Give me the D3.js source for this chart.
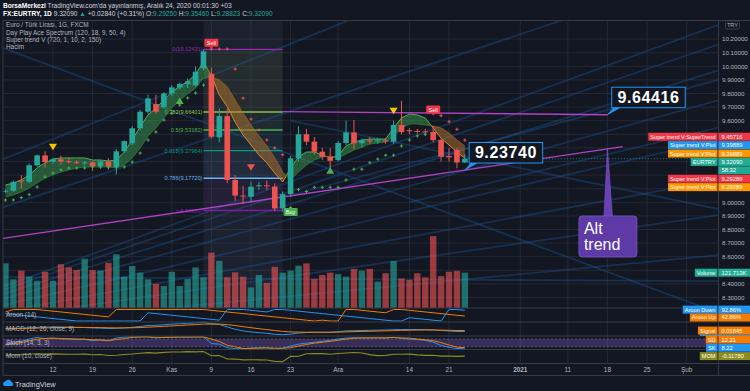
<!DOCTYPE html>
<html><head><meta charset="utf-8">
<script src="https://cdn.jsdelivr.net/npm/d3@7"></script>
<style>
html,body{margin:0;padding:0;background:#131722;}
svg{display:block;}
text{font-family:"Liberation Sans",Arial,sans-serif;}
</style></head><body>
<svg id="chart" width="750" height="391"></svg>
<script>
// ---------------- DATA ----------------
const dates = ["2020-10-02","2020-10-05","2020-10-06","2020-10-07","2020-10-08","2020-10-09",
"2020-10-12","2020-10-13","2020-10-14","2020-10-15","2020-10-16","2020-10-19","2020-10-20","2020-10-21","2020-10-22","2020-10-23",
"2020-10-26","2020-10-27","2020-10-28","2020-10-29","2020-10-30","2020-11-02","2020-11-03","2020-11-04","2020-11-05","2020-11-06",
"2020-11-09","2020-11-10","2020-11-11","2020-11-12","2020-11-13","2020-11-16","2020-11-17","2020-11-18","2020-11-19","2020-11-20",
"2020-11-23","2020-11-24","2020-11-25","2020-11-26","2020-11-27","2020-11-30","2020-12-01","2020-12-02","2020-12-03","2020-12-04",
"2020-12-07","2020-12-08","2020-12-09","2020-12-10","2020-12-11","2020-12-14","2020-12-15","2020-12-16","2020-12-17","2020-12-18",
"2020-12-21","2020-12-22","2020-12-23"];
const openP = [9.080,9.085,9.160,9.150,9.272,9.345,9.298,9.316,9.302,9.295,9.290,9.294,9.266,9.300,9.262,9.375,9.434,9.544,9.666,9.722,9.700,9.800,9.845,9.870,9.860,9.985,9.946,9.478,9.634,9.164,9.050,9.041,9.118,9.125,9.115,8.955,9.060,9.323,9.500,9.446,9.372,9.330,9.310,9.436,9.514,9.434,9.455,9.450,9.455,9.445,9.568,9.530,9.525,9.522,9.517,9.457,9.340,9.385,9.2925];
const highP = [9.095,9.160,9.200,9.285,9.350,9.375,9.325,9.345,9.330,9.310,9.305,9.300,9.310,9.325,9.390,9.455,9.560,9.680,9.790,9.790,9.810,9.860,9.880,9.910,10.000,10.124,9.990,9.690,9.690,9.200,9.120,9.150,9.150,9.160,9.140,9.080,9.340,9.560,9.540,9.480,9.400,9.400,9.450,9.600,9.605,9.470,9.480,9.475,9.470,9.600,9.746,9.545,9.540,9.540,9.560,9.470,9.400,9.400,9.3546];
const lowP = [9.070,9.075,9.100,9.140,9.260,9.255,9.285,9.275,9.285,9.280,9.270,9.230,9.250,9.240,9.205,9.365,9.420,9.530,9.650,9.650,9.690,9.780,9.830,9.840,9.850,9.970,9.470,9.440,9.140,9.010,8.990,9.000,9.090,9.090,8.935,8.930,9.040,9.300,9.420,9.350,9.310,9.250,9.300,9.420,9.390,9.400,9.430,9.430,9.430,9.430,9.500,9.500,9.505,9.490,9.440,9.300,9.300,9.250,9.28823];
const closeP = [9.085,9.150,9.155,9.272,9.345,9.296,9.316,9.300,9.295,9.290,9.294,9.266,9.300,9.262,9.375,9.450,9.544,9.666,9.764,9.666,9.800,9.845,9.870,9.890,9.960,10.110,9.482,9.634,9.164,9.049,9.045,9.115,9.125,9.120,8.955,9.060,9.323,9.500,9.446,9.372,9.335,9.305,9.436,9.514,9.434,9.458,9.450,9.455,9.450,9.568,9.517,9.525,9.520,9.515,9.457,9.335,9.330,9.2925,9.3209];
const volumeK = [154,99,129,108,94,125,94,151,140,131,170,131,129,156,185,108,145,122,99,83,76,125,76,100,140,106,191,163,106,123,108,71,114,87,142,122,129,146,154,100,114,122,117,108,135,129,135,91,120,162,102,97,120,106,248,110,125,128,121.713];
// Day Play Ace Spectrum (fast / slow lines)
const specFast = [9.127,9.142,9.164,9.201,9.252,9.289,9.318,9.326,9.326,9.326,9.326,9.311,9.311,9.304,9.311,9.370,9.458,9.554,9.642,9.693,9.752,9.811,9.855,9.885,9.943,10.032,9.930,9.789,9.703,9.590,9.495,9.421,9.348,9.289,9.215,9.149,9.252,9.333,9.370,9.370,9.348,9.326,9.340,9.414,9.443,9.458,9.465,9.465,9.465,9.546,9.620,9.649,9.642,9.620,9.546,9.472,9.421,9.370,9.326];
const specSlow = [9.039,9.054,9.076,9.105,9.142,9.179,9.201,9.223,9.238,9.252,9.260,9.260,9.260,9.260,9.252,9.274,9.326,9.399,9.488,9.546,9.620,9.693,9.752,9.796,9.840,9.914,9.920,9.900,9.850,9.752,9.656,9.568,9.488,9.415,9.326,9.223,9.164,9.223,9.274,9.311,9.333,9.340,9.326,9.355,9.384,9.406,9.428,9.436,9.443,9.487,9.546,9.576,9.576,9.568,9.561,9.546,9.510,9.458,9.414];
// Super trend V dots
const stValue = [9.017,9.017,9.034,9.056,9.113,9.186,9.215,9.238,9.252,9.252,9.252,9.260,9.260,9.260,9.260,9.260,9.296,9.362,9.458,9.517,9.605,9.654,9.715,9.767,9.804,9.862,10.127,10.127,10.127,9.980,9.766,9.612,9.531,9.458,9.400,9.350,9.079,9.093,9.080,9.110,9.110,9.110,9.110,9.164,9.243,9.243,9.291,9.318,9.346,9.346,9.414,9.458,9.488,9.500,9.665,9.637,9.593,9.537,9.457];
const stDir = [1,1,1,1,1,1,1,1,1,1,1,1,1,1,1,1,1,1,1,1,1,1,1,1,1,1,-1,-1,-1,-1,-1,-1,-1,-1,-1,-1,1,1,1,1,1,1,1,1,1,1,1,1,1,1,1,1,1,1,-1,-1,-1,-1,-1];
// indicator panes
const aroonUp = [78.57,100,100,100,100,92.86,85.71,78.57,71.43,64.29,57.14,50,42.86,35.71,100,100,100,100,100,100,100,100,100,100,100,100,92.86,85.71,78.57,71.43,64.29,57.14,50,42.86,35.71,28.57,21.43,14.29,7.14,0,7.14,0,0,100,100,92.86,85.71,78.57,71.43,100,100,92.86,85.71,78.57,71.43,64.29,57.14,50,42.86];
const aroonDown = [64.29,57.14,50,42.86,35.71,28.57,21.43,14.29,7.14,0,0,0,0,0,0,0,0,0,71.43,64.29,57.14,50,42.86,35.71,28.57,21.43,14.29,7.14,100,100,100,92.86,85.71,78.57,100,100,92.86,85.71,78.57,71.43,64.29,57.14,50,42.86,35.71,28.57,21.43,14.29,7.14,0,0,28.57,21.43,14.29,7.14,0,100,100,92.86];
const macdLine = [0.06,0.07,0.075,0.085,0.10,0.105,0.11,0.11,0.105,0.10,0.095,0.085,0.08,0.07,0.075,0.085,0.10,0.12,0.145,0.15,0.165,0.18,0.19,0.20,0.21,0.23,0.19,0.17,0.11,0.05,0.01,-0.015,-0.035,-0.05,-0.075,-0.085,-0.07,-0.045,-0.03,-0.025,-0.025,-0.025,-0.01,0.01,0.015,0.02,0.025,0.028,0.03,0.04,0.045,0.045,0.045,0.042,0.035,0.02,0.008,-0.005,-0.008];
const macdSignal = [0.075,0.074,0.074,0.076,0.08,0.085,0.09,0.094,0.096,0.097,0.097,0.095,0.092,0.088,0.085,0.085,0.088,0.094,0.104,0.113,0.123,0.135,0.146,0.157,0.167,0.18,0.182,0.18,0.166,0.143,0.116,0.09,0.065,0.042,0.019,-0.002,-0.015,-0.021,-0.023,-0.023,-0.024,-0.024,-0.021,-0.015,-0.009,-0.003,0.002,0.007,0.012,0.017,0.023,0.027,0.031,0.033,0.033,0.03,0.026,0.02,0.01845];
const stochK = [40,55,62,80,92,84,86,82,80,78,78,68,74,66,88,95,97,97,97,88,95,96,96,95,96,98,45,40,12,5,5,10,12,12,2,10,25,40,48,55,62,70,80,88,90,88,88,90,88,95,85,80,76,70,55,30,15,6,8.22];
const stochD = [35,45,52,66,78,85,87,84,82,80,79,74,73,69,76,83,93,96,97,94,93,93,96,96,96,96,80,61,32,19,7,7,9,11,9,8,12,25,38,48,55,62,71,79,86,89,89,89,89,91,89,87,80,75,67,52,33,17,12.21];
const momentum = [0.05,0.12,0.10,0.20,0.28,0.22,0.25,0.22,0.20,0.20,0.21,0.12,0.145,-0.01,0.03,0.154,0.228,0.366,0.469,0.376,0.506,0.579,0.57,0.628,0.585,0.66,-0.062,-0.032,-0.60,-0.617,-0.755,-0.73,-0.745,-0.77,-1.005,-1.05,-0.159,-0.134,0.282,0.323,0.29,0.19,0.311,0.394,0.479,0.398,0.127,-0.045,0.004,0.196,0.182,0.22,0.084,0.001,0.023,-0.123,-0.12,-0.16,-0.1178];
// time axis (bar index from 12 Oct = 0)
const tickIdx = [0,5,10,15,20,25,30,36,45,50,59,65,70,75,80];
const tickText = ["12","19","26","Kas","9","16","23","Ara","14","21","2021","11","18","25","Şub"];
const priceTicks = [8.3,8.4,8.5,8.6,8.7,8.8,8.9,9.0,9.1,9.2,9.3,9.4,9.5,9.6,9.7,9.8,9.9,10.0,10.1,10.2];
// fibonacci retracement
const fibLevels = [0,0.382,0.5,0.618,0.786,1];
const fibPrices = [10.12431,9.66401,9.53182,9.37964,9.17720,8.93933];
const fibColors = ["#9c27b0","#8bc34a","#4caf50","#089981","#64b5f6","#7b1fa2"];
const fibFrom = 19, fibTo = 29;
// signals and triangles
const sigIdx = [20,48,30], sigText = ["Sell","Sell","Buy"], sigPrice = [10.174,9.682,8.929];
const triIdx = [0,43,16,35,25], triPrice = [9.409,9.674,9.745,9.232,9.257], triKind = ["yellowDown","yellowDown","greenUp","greenUp","redDown"];
// trend lines [idx1, price1, idx2, price2]
const trendLines = [[-6.31,8.735,71.93,9.409],[29,9.667,70,9.64416]];
// gann fan lines [idx1, price1, idx2, price2]
const fanLines = [
  [-23.7,8.009,84,10.304],[-23.7,8.009,84,10.16],[-23.7,8.009,84,9.97],[-23.7,8.009,84,9.75],
  [-23.7,8.009,84,9.46],[-23.7,8.009,84,9.164],[-23.7,8.009,84,8.906],[-23.7,8.009,84,8.612],
  [-7,9.30,40,10.40],[-7,8.95,70,10.45],[30,9.05,84,9.90],[45,9.00,84,9.55],
  [-6.7,10.143,84,8.187],[30,9.60,84,8.95],[-7,8.45,84,8.42]];
// callouts
const calloutIdx = [70,52], calloutPrice = [9.64416,9.2374], calloutText = ["9.64416","9.23740"];
const altIdx = 70, altPrice = 9.40, altText = ["Alt","trend"];
// right-side price labels
const rlNames = ["Super trend V:SuperTrend","Super trend V:Plot","Super trend V:Plot","EURTRY","","Super trend V:Plot","Super trend V:Plot"];
const rlValues = ["9.45716","9.39889","9.39889","9.32090","58:32","9.29289","9.29289"];
const rlColors = ["#f23645","#2196f3","#ff9800","#22ab94","#22ab94","#f23645","#ff9800"];
const lastPrice = 9.3209;

// ---------------- SCALES ----------------
const svg = d3.select("#chart");
const PL=3, PR=718, PT=21, PB=308;
const idx = dates.map((d,k)=>k-6);
const x = d3.scaleLinear().domain([-6.31,83.96]).range([PL,PR]);
const y = d3.scaleLinear().domain([8.2228,10.3331]).range([PB,PT]);
const yVol = d3.scaleLinear().domain([0,300]).range([PB,PB-300/3.45]);
const yAroon = d3.scaleLinear().domain([0,100]).range([321,309.5]);
const yMacd = d3.scaleLinear().domain([0,0.2]).range([331.3,323.3]);
const yStoch = d3.scaleLinear().domain([0,100]).range([349.3,336.5]);
const yMom = d3.scaleLinear().domain([0,1]).range([355.4,349.44]);

const BG="#131722", GRID="#242836", TXT="#b2b5be", UP="#26a69a", DN="#ef5350", SEP="#363a45";

svg.append("rect").attr("width",750).attr("height",391).attr("fill",BG);
const defs = svg.append("defs");
defs.append("clipPath").attr("id","mainClip").append("rect").attr("x",PL).attr("y",PT).attr("width",PR-PL).attr("height",PB-PT);
defs.append("clipPath").attr("id","subClip").append("rect").attr("x",PL).attr("y",308).attr("width",PR-PL).attr("height",56);

// grid
const grid = svg.append("g");
grid.selectAll("line.v").data(tickIdx).join("line").attr("x1",d=>x(d)).attr("x2",d=>x(d)).attr("y1",PT).attr("y2",363.5).attr("stroke",GRID).attr("stroke-width",1);
grid.selectAll("line.h").data(priceTicks).join("line").attr("x1",PL).attr("x2",PR).attr("y1",d=>y(d)).attr("y2",d=>y(d)).attr("stroke",GRID).attr("stroke-width",1);

const main = svg.append("g").attr("clip-path","url(#mainClip)");
// highlighted date range
main.append("rect").attr("x",x(fibFrom)).attr("y",PT).attr("width",x(fibTo)-x(fibFrom)).attr("height",PB-PT).attr("fill","rgba(110,130,170,0.10)");
// fan lines
main.selectAll("line.fan").data(fanLines).join("line")
  .attr("x1",d=>x(d[0])).attr("y1",d=>y(d[1])).attr("x2",d=>x(d[2])).attr("y2",d=>y(d[3]))
  .attr("stroke","#1e5a9a").attr("stroke-opacity",0.38).attr("stroke-width",1.8);
// volume
main.selectAll("rect.vol").data(idx).join("rect")
  .attr("x",(d)=>x(d)-3.2).attr("width",6.4)
  .attr("y",(d,k)=>yVol(volumeK[k])).attr("height",(d,k)=>PB-yVol(volumeK[k]))
  .attr("fill",(d,k)=>closeP[k]>=openP[k]?UP:DN).attr("fill-opacity",0.62);
// fib zones
for(let j=0;j<fibPrices.length-1;j++){
  main.append("rect").attr("x",x(fibFrom)).attr("width",x(fibTo)-x(fibFrom))
    .attr("y",y(fibPrices[j])).attr("height",y(fibPrices[j+1])-y(fibPrices[j]))
    .attr("fill",fibColors[j+1]).attr("fill-opacity",0.07);
}
fibPrices.forEach((p,j)=>{
  main.append("line").attr("x1",x(fibFrom)).attr("x2",x(fibTo)).attr("y1",y(p)).attr("y2",y(p))
    .attr("stroke",fibColors[j]).attr("stroke-width",1.4);
  main.append("text").attr("x",x(fibFrom)-1).attr("y",y(p)+2).attr("text-anchor","end")
    .attr("font-size",5.6).attr("fill",fibColors[j]).text(fibLevels[j]+"("+p.toFixed(5)+")");
});
// spectrum band
const bandG = main.append("g");
for(let k=0;k<idx.length-1;k++){
  const xa=x(idx[k]), xb=x(idx[k+1]);
  const d0=specFast[k]-specSlow[k], d1=specFast[k+1]-specSlow[k+1];
  const segs=[];
  if(d0*d1>=0){
    segs.push({pts:[[xa,y(specFast[k])],[xb,y(specFast[k+1])],[xb,y(specSlow[k+1])],[xa,y(specSlow[k])]],up:(d0+d1)>=0,
      f:[[xa,y(specFast[k])],[xb,y(specFast[k+1])]], s:[[xa,y(specSlow[k])],[xb,y(specSlow[k+1])]]});
  } else {
    const t=d0/(d0-d1); const xm=xa+t*(xb-xa); const pm=specFast[k]+t*(specFast[k+1]-specFast[k]);
    segs.push({pts:[[xa,y(specFast[k])],[xm,y(pm)],[xa,y(specSlow[k])]],up:d0>0,f:[[xa,y(specFast[k])],[xm,y(pm)]],s:[[xa,y(specSlow[k])],[xm,y(pm)]]});
    segs.push({pts:[[xm,y(pm)],[xb,y(specFast[k+1])],[xb,y(specSlow[k+1])]],up:d1>0,f:[[xm,y(pm)],[xb,y(specFast[k+1])]],s:[[xm,y(pm)],[xb,y(specSlow[k+1])]]});
  }
  segs.forEach(s=>{
    bandG.append("polygon").attr("points",s.pts.map(p=>p.join(",")).join(" "))
      .attr("fill",s.up?"#3d9a52":"#b8762a").attr("fill-opacity",0.5);
    bandG.append("line").attr("x1",s.f[0][0]).attr("y1",s.f[0][1]).attr("x2",s.f[1][0]).attr("y2",s.f[1][1])
      .attr("stroke",s.up?"#4caf50":"#d9892e").attr("stroke-width",1);
    bandG.append("line").attr("x1",s.s[0][0]).attr("y1",s.s[0][1]).attr("x2",s.s[1][0]).attr("y2",s.s[1][1])
      .attr("stroke",s.up?"#2e7d32":"#a0601e").attr("stroke-width",0.8);
  });
}
// trend lines
main.selectAll("line.tr").data(trendLines).join("line")
  .attr("x1",d=>x(d[0])).attr("y1",d=>y(d[1])).attr("x2",d=>x(d[2])).attr("y2",d=>y(d[3]))
  .attr("stroke","#b042c4").attr("stroke-width",1.4);
// last price dotted line
main.append("line").attr("x1",x(52)).attr("x2",PR).attr("y1",y(lastPrice)).attr("y2",y(lastPrice))
  .attr("stroke",UP).attr("stroke-dasharray","1,2").attr("stroke-opacity",0.7);
// candles
const cg = main.append("g");
idx.forEach((d,k)=>{
  const c = closeP[k]>=openP[k]?UP:DN;
  cg.append("line").attr("x1",x(d)).attr("x2",x(d)).attr("y1",y(highP[k])).attr("y2",y(lowP[k])).attr("stroke",c).attr("stroke-width",1);
  const top=y(Math.max(openP[k],closeP[k])), bot=y(Math.min(openP[k],closeP[k]));
  cg.append("rect").attr("x",x(d)-2.8).attr("width",5.6).attr("y",top).attr("height",Math.max(1,bot-top)).attr("fill",c);
});
// super trend plus markers
const sg = main.append("g");
idx.forEach((d,k)=>{
  const cx=x(d), cy=y(stValue[k]), col=stDir[k]>0?"#4caf50":"#ef5350";
  sg.append("path").attr("d",`M${cx-1.6},${cy}H${cx+1.6}M${cx},${cy-1.6}V${cy+1.6}`).attr("stroke",col).attr("stroke-width",1);
});
// triangles
triIdx.forEach((d,k)=>{
  const cx=x(d), cy=y(triPrice[k]); const kind=triKind[k];
  let path, col;
  if(kind==="greenUp"){ path=`M${cx},${cy-3.5}L${cx+4},${cy+3}L${cx-4},${cy+3}Z`; col="#4caf50"; }
  else { path=`M${cx-4},${cy-3}L${cx+4},${cy-3}L${cx},${cy+3.5}Z`; col= kind==="redDown"?"#ef5350":"#f7c600"; }
  main.append("path").attr("d",path).attr("fill",col);
});
// signals
sigIdx.forEach((d,k)=>{
  const cx=x(d), cy=y(sigPrice[k]); const col=sigText[k]==="Sell"?"#f23645":"#4caf50";
  const g=main.append("g");
  g.append("rect").attr("x",cx-7).attr("y",cy-4).attr("width",14).attr("height",8).attr("rx",1).attr("fill",col);
  if(sigText[k]==="Sell") g.append("path").attr("d",`M${cx-2},${cy+4}L${cx+2},${cy+4}L${cx},${cy+6}Z`).attr("fill",col);
  else g.append("path").attr("d",`M${cx-2},${cy-4}L${cx+2},${cy-4}L${cx},${cy-6}Z`).attr("fill",col);
  g.append("text").attr("x",cx).attr("y",cy+2).attr("text-anchor","middle").attr("font-size",5.5).attr("fill","#fff").text(sigText[k]);
});
// callouts
calloutIdx.forEach((d,k)=>{
  const ax=x(d), ay=y(calloutPrice[k]);
  const bx=ax+4.3, bh=20.5, by=ay-7-bh, bw=73.5;
  const g=svg.append("g");
  g.append("path").attr("d",`M${ax},${ay}L${bx+2},${by+bh}L${bx+8},${by+bh}Z`).attr("fill","#2196f3").attr("stroke","#2196f3").attr("stroke-width",0.8);
  g.append("rect").attr("x",bx).attr("y",by).attr("width",bw).attr("height",bh).attr("fill",BG).attr("stroke","#2196f3").attr("stroke-width",1);
  g.append("text").attr("x",bx+bw/2).attr("y",by+bh/2+5.6).attr("text-anchor","middle").attr("font-size",16).attr("font-weight",600)
    .attr("letter-spacing",0.6).attr("fill","#fff").text(calloutText[k]);
});
// Alt trend callout
{
  const ax=x(altIdx), ay=y(altPrice);
  const bw=58, bh=41, bx=ax-28.5, by=216;
  const g=svg.append("g");
  g.append("path").attr("d",`M${ax},${ay}L${ax-3.5},${by+1}L${ax+5},${by+1}Z`).attr("fill","#6a3fb5").attr("stroke","#7e57c2").attr("stroke-width",0.6);
  g.append("rect").attr("x",bx).attr("y",by).attr("width",bw).attr("height",bh).attr("rx",3).attr("fill","#5d3aa6").attr("stroke","#7e57c2").attr("stroke-width",0.8);
  altText.forEach((t,k)=>g.append("text").attr("x",bx+5).attr("y",by+18+k*16).attr("font-size",16).attr("fill","#fff").text(t));
}

// ---------- sub panes ----------
const sub = svg.append("g").attr("clip-path","url(#subClip)");
sub.append("rect").attr("x",PL).attr("width",PR-PL).attr("y",yStoch(80)).attr("height",yStoch(20)-yStoch(80)).attr("fill","#7e57c2").attr("fill-opacity",0.35);
[80,20].forEach(v=>sub.append("line").attr("x1",PL).attr("x2",PR).attr("y1",yStoch(v)).attr("y2",yStoch(v)).attr("stroke","#787b86").attr("stroke-dasharray","2,2").attr("stroke-width",0.6));
function drawLine(vals, sc, col, w){
  sub.append("path").attr("d",d3.line().x((v,k)=>x(idx[k])).y(v=>sc(v))(vals)).attr("fill","none").attr("stroke",col).attr("stroke-width",w||1);
}
drawLine(aroonDown,yAroon,"#2196f3");
drawLine(aroonUp,yAroon,"#f57c00");
drawLine(macdLine,yMacd,"#2196f3");
drawLine(macdSignal,yMacd,"#f57c00");
drawLine(stochK,yStoch,"#2196f3");
drawLine(stochD,yStoch,"#f57c00");
drawLine(momentum,yMom,"#8d8d1f",1.1);

// separators & frame
[308,322,336,349.5,363.5,375.5].forEach(v=>svg.append("line").attr("x1",PL).attr("x2",750).attr("y1",v).attr("y2",v).attr("stroke",SEP).attr("stroke-width",1));
svg.append("line").attr("x1",PL).attr("x2",750).attr("y1",20.5).attr("y2",20.5).attr("stroke",SEP);
svg.append("line").attr("x1",PL).attr("x2",PL).attr("y1",20.5).attr("y2",375.5).attr("stroke",SEP);
svg.append("line").attr("x1",PR+0.5).attr("x2",PR+0.5).attr("y1",20.5).attr("y2",375.5).attr("stroke",SEP);

// pane titles
const paneTitles = ["Aroon (14)","MACD (12, 26, close, 9)","Stoch (14, 3, 3)","Mom (10, close)"];
[317,330.8,344.6,358.4].forEach((v,k)=>svg.append("text").attr("x",6).attr("y",v).attr("font-size",6.4).attr("fill",TXT).text(paneTitles[k]));

// legend
const legend = ["Euro / Türk Lirası, 1G, FXCM","Day Play Ace Spectrum (120, 18, 9, 50, 4)","Super trend V (720, 1, 10, 2, 150)","Hacim"];
legend.forEach((t,k)=>svg.append("text").attr("x",6).attr("y",27.2+k*7.3).attr("font-size",6.4).attr("fill",TXT).text(t));

// header
const h1 = svg.append("text").attr("x",3).attr("y",8).attr("font-size",6.6).attr("fill","#d1d4dc");
h1.append("tspan").attr("font-weight","bold").attr("fill","#fff").text("BorsaMerkezi");
h1.append("tspan").text(" TradingView.com'da yayınlanmış, Aralık 24, 2020 00:01:30 +03");
const h2 = svg.append("text").attr("x",3).attr("y",16.2).attr("font-size",6.6).attr("fill","#d1d4dc");
h2.append("tspan").attr("font-weight","bold").attr("fill","#fff").text("FX:EURTRY, 1D");
h2.append("tspan").text(" 9.32090 ");
h2.append("tspan").attr("fill",UP).text("▲");
h2.append("tspan").text(" +0.02840 (+0.31%) O:");
h2.append("tspan").attr("fill",UP).text("9.29250");
h2.append("tspan").text(" H:");
h2.append("tspan").attr("fill",UP).text("9.35460");
h2.append("tspan").text(" L:");
h2.append("tspan").attr("fill",UP).text("9.28823");
h2.append("tspan").text(" C:");
h2.append("tspan").attr("fill",UP).text("9.32090");

// axis labels (collected first so that hidden price ticks can be skipped)
const axisLabels = [];
const rlStart = y(9.45716)-3.4;
rlNames.forEach((n,k)=>axisLabels.push({cy:rlStart+k*8.4,name:n,val:rlValues[k],col:rlColors[k]}));
axisLabels.push({cy:yVol(volumeK[volumeK.length-1]),name:"Volume",val:"121.713K",col:"#22ab94"});
const subLabels = [
  {cy:309.6,name:"Aroon Down",val:"92.86%",col:"#2196f3"},
  {cy:yAroon(aroonUp[aroonUp.length-1])+1.4,name:"Aroon Up",val:"42.86%",col:"#f57c00"},
  {cy:yMacd(macdSignal[macdSignal.length-1]),name:"Signal",val:"0.01845",col:"#f57c00"},
  {cy:339.6,name:"SD",val:"12.21",col:"#f57c00"},
  {cy:347.7,name:"SK",val:"8.22",col:"#2196f3"},
  {cy:yMom(momentum[momentum.length-1]),name:"MOM",val:"-0.11780",col:"#8d8d1f"}];

// price axis ticks (those hidden by a coloured label are skipped)
priceTicks.filter(p=>axisLabels.every(l=>Math.abs(l.cy-y(p))>6.5)).forEach(p=>
  svg.append("text").attr("x",722).attr("y",y(p)+2.2).attr("font-size",6.2).attr("fill",TXT).text(p.toFixed(5)));
svg.append("rect").attr("x",725.5).attr("y",21).attr("width",14).attr("height",8).attr("rx",1.5).attr("fill",BG).attr("stroke","#50535e").attr("stroke-width",0.6);
svg.append("text").attr("x",732.5).attr("y",27).attr("text-anchor","middle").attr("font-size",5.6).attr("fill",TXT).text("TRY");

// time axis
tickIdx.forEach((d,k)=>svg.append("text").attr("x",x(d)).attr("y",372).attr("text-anchor","middle").attr("font-size",6.4)
  .attr("font-weight",tickText[k]==="2021"?"bold":"normal").attr("fill",TXT).text(tickText[k]));

function axisLabel(l){
  const g=svg.append("g");
  if(l.name){
    const t=g.append("text").attr("y",l.cy+2).attr("font-size",5.6).attr("fill","#fff").text(l.name);
    const w=t.node().getComputedTextLength()+4;
    g.insert("rect","text").attr("x",717.5-w).attr("y",l.cy-4).attr("width",w).attr("height",8).attr("fill",l.col);
    t.attr("x",717.5-w+2);
  }
  g.append("rect").attr("x",718.5).attr("y",l.cy-4).attr("width",31.5).attr("height",8).attr("fill",l.col);
  g.append("text").attr("x",721.5).attr("y",l.cy+2).attr("font-size",5.8).attr("fill","#fff").text(l.val);
}
axisLabels.forEach(axisLabel);
// MACD label mostly hidden below the signal label
svg.append("rect").attr("x",700).attr("y",334.4).attr("width",50).attr("height",1.6).attr("fill","#2196f3");
subLabels.forEach(axisLabel);

// footer logo
const lg = svg.append("g");
lg.append("path").attr("d","M4,386 a2.6,2.6 0 0 1 1.4,-4.6 a3.4,3.4 0 0 1 6.2,0.8 a2,2 0 0 1 0.4,3.8 Z").attr("fill","#2196f3");
svg.append("text").attr("x",15).attr("y",386.5).attr("font-size",7.4).attr("fill","#d1d4dc").text("TradingView");
</script>
</body></html>
